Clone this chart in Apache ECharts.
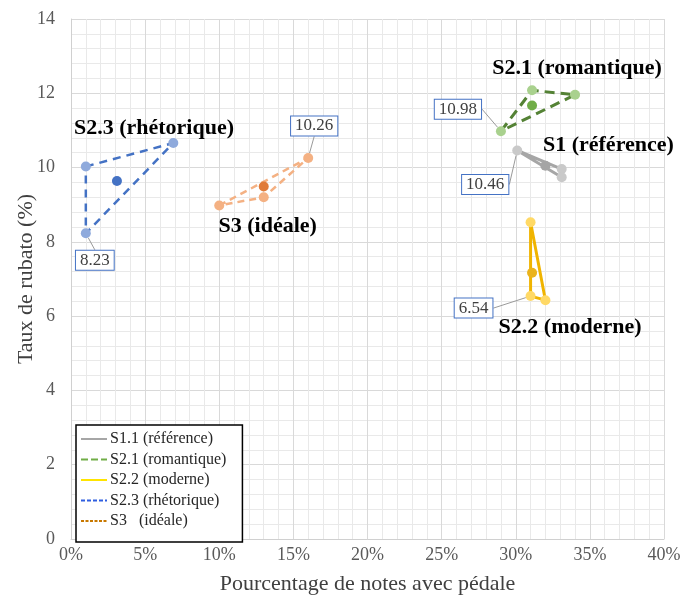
<!DOCTYPE html>
<html><head><meta charset="utf-8">
<script src="https://cdn.jsdelivr.net/npm/echarts@6/dist/echarts.min.js"></script>
<style>html,body{margin:0;padding:0;background:#fff}#c{width:686px;height:600px}</style>
</head><body><div id="c"></div>
<script>
// ---- data (x = % notes avec pédale, y = taux de rubato %) ----
const s1Pct  = [30.1, 33.1, 33.1];
const s1Rub  = [10.46, 9.96, 9.74];
const s1Mean = [32.0, 10.05];

const s21Pct  = [29.0, 31.1, 34.0];
const s21Rub  = [10.98, 12.08, 11.96];
const s21Mean = [31.1, 11.67];

const s22Pct  = [31.0, 31.0, 32.0];
const s22Rub  = [8.53, 6.54, 6.43];
const s22Mean = [31.1, 7.17];

const s23Pct  = [1.0, 6.9, 1.0];
const s23Rub  = [10.03, 10.66, 8.23];
const s23Mean = [3.1, 9.64];

const s3Pct  = [10.0, 16.0, 13.0];
const s3Rub  = [8.98, 10.26, 9.20];
const s3Mean = [13.0, 9.49];

const groupNames  = ['S1 (référence)', 'S2.1 (romantique)', 'S2.2 (moderne)', 'S2.3 (rhétorique)', 'S3 (idéale)'];
const legendNames = ['S1.1 (référence)', 'S2.1 (romantique)', 'S2.2 (moderne)', 'S2.3 (rhétorique)', 'S3   (idéale)'];
const xTicks = [0, 5, 10, 15, 20, 25, 30, 35, 40];
const yTicks = [0, 2, 4, 6, 8, 10, 12, 14];

// ---- styles ----
const FONT = '"Liberation Serif", "DejaVu Serif", serif';
const groups = [
  {pct:s1Pct, rub:s1Rub, mean:s1Mean, name:groupNames[0], line:'#a6a6a6', type:'solid', w:3, pt:'#c9c9c9', mc:'#a5a5a5',
   lbl:{idx:0, dx:-32, dy:34}, nameOff:[63,-20]},
  {pct:s21Pct, rub:s21Rub, mean:s21Mean, name:groupNames[1], line:'#548235', type:[10,6], w:3, pt:'#a9d18e', mc:'#70ad47',
   lbl:{idx:0, dx:-43, dy:-22}, nameOff:[45,-37]},
  {pct:s22Pct, rub:s22Rub, mean:s22Mean, name:groupNames[2], line:'#f0b400', type:'solid', w:3, pt:'#ffd966', mc:'#eab31c',
   lbl:{idx:1, dx:-57, dy:12}, nameOff:[38,55]},
  {pct:s23Pct, rub:s23Rub, mean:s23Mean, name:groupNames[3], line:'#4472c4', type:[8,6], w:2.5, pt:'#8faadc', mc:'#4472c4',
   lbl:{idx:2, dx:9, dy:27}, nameOff:[37,-53]},
  {pct:s3Pct, rub:s3Rub, mean:s3Mean, name:groupNames[4], line:'#f4b183', type:[7,5], w:2.5, pt:'#f4b183', mc:'#e07b39',
   lbl:{idx:1, dx:6, dy:-32}, nameOff:[4,40]}
];
const legendStyles = [
  {color:'#a6a6a6', type:'solid', width:3},
  {color:'#70ad47', type:[7,3], width:3},
  {color:'#ffe400', type:'solid', width:2},
  {color:'#2f5ee0', type:[4,2], width:3},
  {color:'#c87800', type:[3,1.5], width:3}
];

const series = [];
groups.forEach((g) => {
  const poly = g.pct.map((x, i) => [x, g.rub[i]]);
  poly.push([g.pct[0], g.rub[0]]);
  series.push({
    type:'line', data:poly, symbol:'none', silent:true, z:2,
    lineStyle:{color:g.line, width:g.w, type:g.type, cap:'butt'}
  });
  series.push({
    type:'scatter', z:3, symbolSize:10, itemStyle:{color:g.pt, opacity:1},
    data:g.pct.map((x, i) => {
      const d = {value:[x, g.rub[i]]};
      if (i === g.lbl.idx) {
        d.label = {
          show:true, position:'inside',
          formatter:(p) => p.value[1].toFixed(2),
          fontFamily:FONT, fontSize:17, color:'#404040',
          backgroundColor:'#fff', borderColor:'#4472c4', borderWidth:1,
          padding:[2,4,0,4]
        };
      }
      return d;
    }),
    labelLine:{show:true, smooth:false, lineStyle:{color:'#9a9a9a', width:1}},
    labelLayout:((lbl) => (p) => p.dataIndex === lbl.idx ? {dx:lbl.dx, dy:lbl.dy} : {})(g.lbl)
  });
  series.push({
    type:'scatter', z:4, symbolSize:10, itemStyle:{color:g.mc, opacity:1},
    data:[{value:g.mean}],
    label:{show:true, position:'inside', offset:g.nameOff, formatter:g.name,
      fontFamily:FONT, fontSize:22, fontWeight:'bold', color:'#000'}
  });
});
legendNames.forEach((n, i) => {
  series.push({name:n, type:'line', data:[], symbol:'none', lineStyle:legendStyles[i], itemStyle:{color:legendStyles[i].color}});
});

const chart = echarts.init(document.getElementById('c'), null, {renderer:'canvas'});
chart.setOption({
  animation:false,
  backgroundColor:'#fff',
  grid:{left:71, right:22, top:19, bottom:61, containLabel:false, outerBoundsMode:'none'},
  legend:{
    data:legendNames, orient:'vertical', left:76, top:425,
    backgroundColor:'#fff', borderColor:'#000', borderWidth:1.5,
    padding:[6,16,13,4], itemWidth:26, itemHeight:14, itemGap:4.5, itemStyle:{opacity:0},
    textStyle:{fontFamily:FONT, fontSize:16, color:'#262626', padding:[0,0,0,-2]},
    selectedMode:false
  },
  xAxis:{
    type:'value', min:xTicks[0], max:xTicks[xTicks.length-1], interval:xTicks[1]-xTicks[0],
    name:'Pourcentage de notes avec pédale', nameLocation:'middle', nameGap:34, nameMoveOverlap:false,
    nameTextStyle:{fontFamily:FONT, fontSize:22, color:'#404040'},
    axisLine:{show:true, lineStyle:{color:'#d0d0d0', width:1}},
    axisTick:{show:false},
    axisLabel:{formatter:'{value}%', fontFamily:FONT, fontSize:18, color:'#595959', margin:7},
    splitLine:{show:true, lineStyle:{color:'#d9d9d9', width:1}},
    minorTick:{show:false, splitNumber:5},
    minorSplitLine:{show:true, lineStyle:{color:'#e9e9e9', width:1}}
  },
  yAxis:{
    type:'value', min:yTicks[0], max:yTicks[yTicks.length-1], interval:yTicks[1]-yTicks[0],
    name:'Taux de rubato (%)', nameLocation:'middle', nameGap:34, nameMoveOverlap:false,
    nameTextStyle:{fontFamily:FONT, fontSize:22, color:'#404040'},
    axisLine:{show:true, lineStyle:{color:'#d0d0d0', width:1}},
    axisTick:{show:false},
    axisLabel:{fontFamily:FONT, fontSize:18, color:'#595959', margin:16},
    splitLine:{show:true, lineStyle:{color:'#d9d9d9', width:1}},
    minorTick:{show:false, splitNumber:5},
    minorSplitLine:{show:true, lineStyle:{color:'#e9e9e9', width:1}}
  },
  series:series
});
</script>
</body></html>
